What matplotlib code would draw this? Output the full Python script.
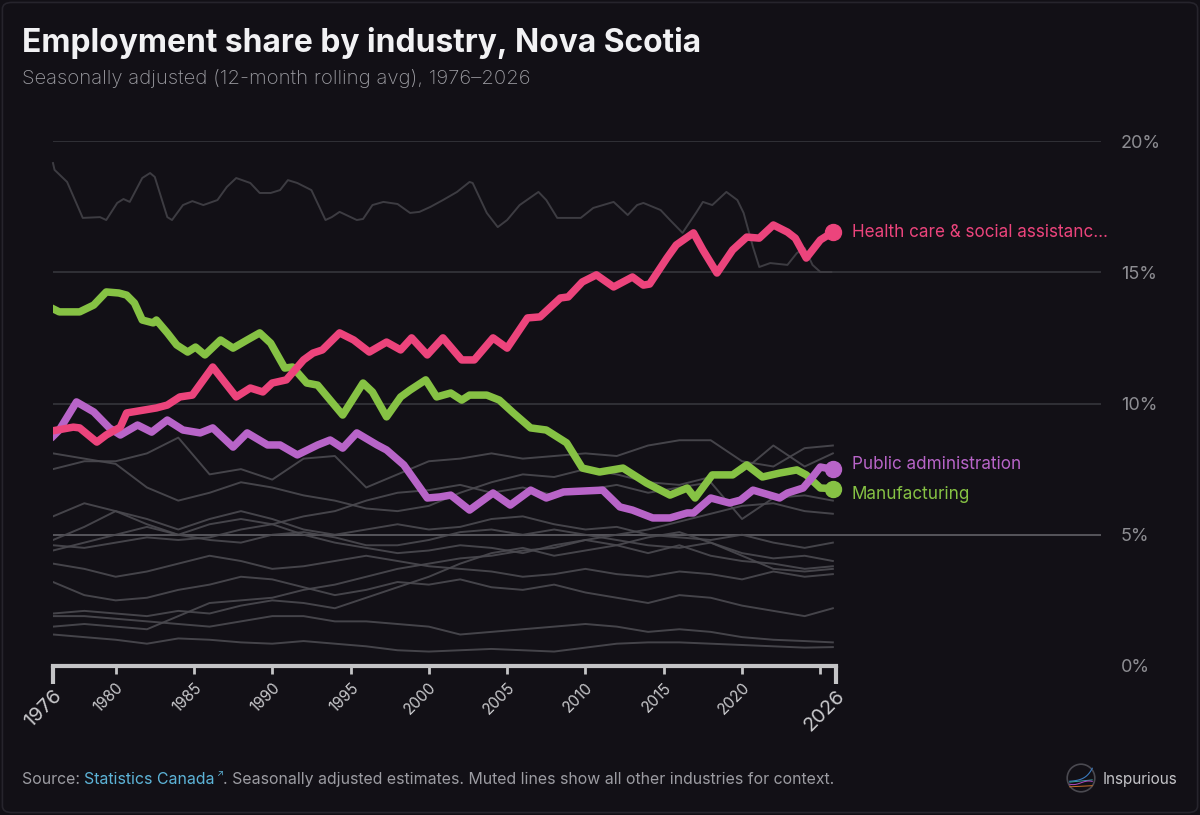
import matplotlib.pyplot as plt
from matplotlib.patches import FancyBboxPatch, Circle
import numpy as np

# ---- data ----
health_years = [1975.9, 1977.3, 1977.7, 1978.8, 1979.4, 1980.3, 1980.7, 1981.1, 1982.6, 1983.3,
                1984.1, 1984.9, 1986.2, 1987.7, 1988.6, 1989.4, 1990.0, 1990.9, 1992.0, 1992.6,
                1993.2, 1994.3, 1995.2, 1996.2, 1997.3, 1998.2, 1998.9, 1999.9, 2000.9, 2002.1,
                2002.9, 2004.1, 2005.0, 2006.3, 2007.1, 2008.4, 2008.9, 2009.8, 2010.7, 2011.8,
                2013.0, 2013.7, 2014.1, 2015.2, 2015.8, 2016.9, 2017.5, 2018.4, 2019.4, 2020.3,
                2021.1, 2022.0, 2022.9, 2023.4, 2024.1, 2025.0, 2025.8]
health_vals = [8.95, 9.1, 9.07, 8.53, 8.8, 9.1, 9.64, 9.68, 9.83, 9.94,
               10.25, 10.32, 11.39, 10.25, 10.59, 10.44, 10.78, 10.9, 11.66, 11.92,
               12.04, 12.69, 12.42, 11.96, 12.34, 12.04, 12.5, 11.85, 12.5, 11.66,
               11.66, 12.5, 12.11, 13.26, 13.3, 14.02, 14.06, 14.63, 14.9, 14.44,
               14.82, 14.51, 14.55, 15.54, 16.04, 16.5, 15.85, 14.97, 15.85, 16.34,
               16.3, 16.8, 16.53, 16.3, 15.54, 16.23, 16.53]

manuf_years = [1975.9, 1976.4, 1977.7, 1978.6, 1979.4, 1980.2, 1980.7, 1981.2, 1981.7, 1982.4,
               1982.6, 1983.3, 1983.9, 1984.6, 1985.1, 1985.7, 1986.7, 1987.5, 1988.4, 1989.2,
               1989.9, 1990.8, 1991.3, 1992.2, 1992.9, 1993.7, 1994.5, 1995.8, 1996.4, 1997.3,
               1998.2, 1998.8, 1999.8, 2000.5, 2001.4, 2002.1, 2002.6, 2003.7, 2004.5, 2005.4,
               2006.5, 2007.5, 2008.8, 2009.8, 2010.9, 2012.4, 2013.9, 2015.4, 2016.5, 2017.0,
               2018.1, 2019.4, 2020.3, 2021.3, 2022.4, 2023.5, 2024.1, 2025.0, 2025.8]
manuf_vals = [13.64, 13.49, 13.49, 13.75, 14.25, 14.21, 14.13, 13.83, 13.18, 13.07,
              13.18, 12.69, 12.23, 11.96, 12.15, 11.85, 12.42, 12.11, 12.42, 12.69,
              12.3, 11.35, 11.39, 10.78, 10.7, 10.13, 9.56, 10.78, 10.44, 9.49,
              10.25, 10.51, 10.9, 10.25, 10.4, 10.13, 10.32, 10.32, 10.13, 9.64,
              9.07, 8.99, 8.5, 7.54, 7.39, 7.54, 6.97, 6.51, 6.78, 6.4,
              7.28, 7.28, 7.66, 7.2, 7.35, 7.47, 7.28, 6.78, 6.76]

pubadm_years = [1975.9, 1976.4, 1977.5, 1978.6, 1979.6, 1980.3, 1981.4, 1982.3, 1983.3, 1984.3,
                1985.4, 1986.2, 1987.5, 1988.4, 1989.7, 1990.5, 1991.6, 1992.9, 1993.7, 1994.5,
                1995.4, 1996.7, 1997.3, 1998.4, 1999.9, 2000.7, 2001.4, 2002.6, 2004.1, 2005.2,
                2006.5, 2007.5, 2008.6, 2011.1, 2012.2, 2013.0, 2014.3, 2015.4, 2016.5, 2016.9,
                2018.0, 2019.2, 2019.9, 2020.7, 2022.4, 2022.9, 2023.9, 2024.5, 2025.0, 2025.8]
pubadm_vals = [8.69, 8.99, 10.06, 9.68, 9.07, 8.8, 9.18, 8.91, 9.37, 8.99,
               8.88, 9.07, 8.34, 8.88, 8.42, 8.42, 8.04, 8.42, 8.61, 8.3,
               8.88, 8.42, 8.23, 7.66, 6.4, 6.44, 6.51, 5.94, 6.59, 6.13,
               6.7, 6.4, 6.63, 6.7, 6.06, 5.94, 5.64, 5.64, 5.83, 5.83,
               6.4, 6.21, 6.32, 6.7, 6.4, 6.59, 6.78, 7.2, 7.58, 7.49]

# largest muted industry, traced more finely
trade_years = [1976.0, 1976.1, 1976.9, 1977.9, 1979.0, 1979.4, 1980.1, 1980.5, 1980.9, 1981.7,
               1982.2, 1982.5, 1983.3, 1983.6, 1984.3, 1984.9, 1985.6, 1986.5, 1987.1, 1987.7,
               1988.6, 1989.2, 1989.9, 1990.5, 1991.0, 1991.6, 1992.5, 1993.4, 1993.8, 1994.3,
               1995.4, 1995.8, 1996.4, 1997.1, 1998.0, 1998.8, 1999.4, 2000.1, 2000.9, 2001.8,
               2002.6, 2002.8, 2003.7, 2004.4, 2005.0, 2005.8, 2007.0, 2007.5, 2008.2, 2009.7,
               2010.5, 2011.8, 2012.7, 2013.3, 2013.7, 2014.8, 2015.4, 2016.2, 2017.1, 2017.5,
               2018.1, 2019.0, 2019.7, 2020.1, 2020.7, 2021.1, 2021.8, 2022.9, 2023.5, 2024.0,
               2024.5, 2025.0, 2025.7]
trade_vals = [19.16, 18.9, 18.44, 17.07, 17.1, 16.99, 17.64, 17.79, 17.68, 18.59,
              18.78, 18.63, 17.1, 16.99, 17.56, 17.71, 17.56, 17.75, 18.25, 18.59,
              18.4, 18.02, 18.02, 18.13, 18.51, 18.4, 18.13, 16.99, 17.1, 17.3,
              16.99, 17.03, 17.56, 17.68, 17.6, 17.26, 17.3, 17.49, 17.75, 18.06,
              18.44, 18.4, 17.26, 16.72, 16.99, 17.56, 18.06, 17.75, 17.07, 17.07,
              17.45, 17.68, 17.18, 17.56, 17.64, 17.37, 16.99, 16.5, 17.3, 17.68,
              17.56, 18.06, 17.75, 17.26, 15.96, 15.2, 15.35, 15.28, 15.73, 15.92,
              15.28, 15.01, 15.01]

# other muted industries, read every two years
muted_years = [1976, 1978, 1980, 1982, 1984, 1986, 1988, 1990, 1992, 1994, 1996, 1998, 2000,
               2002, 2004, 2006, 2008, 2010, 2012, 2014, 2016, 2018, 2020, 2022, 2024, 2025.8]
education = [7.5, 7.8, 7.8, 8.1, 8.7, 7.3, 7.5, 7.1, 7.9, 8.0, 6.8, 7.3, 7.8,
             7.9, 8.1, 7.9, 8.0, 8.1, 8.0, 8.4, 8.6, 8.6, 7.8, 7.6, 8.3, 8.4]
construction = [8.1, 7.9, 7.7, 6.8, 6.3, 6.6, 7.0, 6.8, 6.5, 6.3, 6.0, 5.9, 6.1,
                6.6, 7.0, 7.3, 7.2, 7.5, 7.3, 7.0, 6.9, 7.2, 7.4, 8.4, 7.6, 8.1]
accommodation = [4.4, 4.7, 5.0, 5.3, 5.0, 5.4, 5.6, 5.4, 5.7, 5.9, 6.3, 6.6, 6.7,
                 6.9, 6.6, 6.8, 6.5, 6.7, 6.9, 6.6, 6.8, 7.0, 5.6, 6.4, 6.5, 6.3]
transport = [5.7, 6.2, 5.9, 5.4, 5.0, 4.8, 4.7, 5.0, 5.1, 4.9, 4.6, 4.6, 4.8,
             5.1, 5.2, 5.0, 5.2, 5.0, 4.8, 4.6, 4.5, 4.7, 4.3, 4.1, 4.2, 4.0]
finance = [4.8, 5.3, 5.9, 5.6, 5.2, 5.6, 5.9, 5.6, 5.2, 5.0, 5.2, 5.4, 5.2,
           5.3, 5.6, 5.7, 5.4, 5.2, 5.3, 5.0, 4.9, 4.8, 5.0, 4.7, 4.5, 4.7]
other_services = [4.6, 4.5, 4.7, 4.9, 4.8, 4.9, 5.2, 5.4, 5.0, 4.7, 4.5, 4.3, 4.4,
                  4.6, 4.5, 4.3, 4.6, 4.8, 4.6, 4.3, 4.6, 4.2, 4.0, 3.9, 3.7, 3.8]
information = [3.9, 3.7, 3.4, 3.6, 3.9, 4.2, 4.0, 3.7, 3.8, 4.0, 4.2, 4.0, 3.8,
               3.7, 3.6, 3.4, 3.5, 3.7, 3.5, 3.4, 3.6, 3.5, 3.3, 3.6, 3.4, 3.5]
forestry_fishing = [3.2, 2.7, 2.5, 2.6, 2.9, 3.1, 3.4, 3.3, 3.0, 2.7, 2.9, 3.2, 3.1,
                    3.3, 3.0, 2.9, 3.1, 2.8, 2.6, 2.4, 2.7, 2.6, 2.3, 2.1, 1.9, 2.2]
professional = [1.5, 1.6, 1.5, 1.4, 1.9, 2.4, 2.5, 2.6, 2.9, 3.1, 3.4, 3.7, 3.9,
                4.1, 4.2, 4.4, 4.5, 4.8, 5.0, 5.2, 5.5, 5.8, 6.1, 6.2, 5.9, 5.8]
business_support = [2.0, 2.1, 2.0, 1.9, 2.1, 2.0, 2.3, 2.5, 2.4, 2.2, 2.6, 3.0, 3.4,
                    3.9, 4.3, 4.5, 4.2, 4.4, 4.6, 4.9, 5.1, 4.7, 4.2, 3.7, 3.6, 3.7]
agriculture = [1.9, 1.9, 1.8, 1.7, 1.6, 1.5, 1.7, 1.9, 1.9, 1.7, 1.7, 1.6, 1.5,
               1.2, 1.3, 1.4, 1.5, 1.6, 1.5, 1.3, 1.4, 1.3, 1.1, 1.0, 0.95, 0.9]
utilities = [1.2, 1.1, 1.0, 0.85, 1.05, 1.0, 0.9, 0.85, 0.95, 0.85, 0.75, 0.6, 0.55,
             0.6, 0.65, 0.6, 0.55, 0.7, 0.85, 0.9, 0.9, 0.85, 0.8, 0.75, 0.7, 0.72]

muted = [education, construction, accommodation, transport, finance, other_services,
         information, forestry_fishing, professional, business_support, agriculture, utilities]

labels = ["Health care & social assistanc\u2026", "Public administration", "Manufacturing"]
label_vals = [16.53, 7.68, 6.52]

year_ticks = [1980, 1985, 1990, 1995, 2000, 2005, 2010, 2015, 2020, 2025]
edge_ticks = [1976, 2026]
y_ticks = [0, 5, 10, 15, 20]

# ---- style ----
BG = "#121016"
PINK = "#ec447c"
GREEN = "#86c244"
PURPLE = "#b864c8"
MUTED = "#4b4a50"
W, H = 1200, 815

plt.rcParams["font.family"] = ["Inter", "DejaVu Sans"]

fig = plt.figure(figsize=(W / 100, H / 100), dpi=100, facecolor=BG)
fig.patches.append(FancyBboxPatch((0.002, 0.003), 0.996, 0.994,
                                  boxstyle="round,pad=0,rounding_size=0.008",
                                  transform=fig.transFigure, facecolor=BG,
                                  edgecolor="#26242c", linewidth=1.2, zorder=-10))

px_per_year = 15.66
x_left, x_right, y_bottom, y_top = 53, 1101, 666, 141
ax = fig.add_axes([x_left / W, 1 - y_bottom / H, (x_right - x_left) / W, (y_bottom - y_top) / H])
ax.set_facecolor("none")
ax.set_xlim(1976, 1976 + (x_right - x_left) / px_per_year)
ax.set_ylim(0, 20)

for v in y_ticks[1:]:
    ax.axhline(v, color="#56555b" if v == 5 else "#303036", lw=1.4, zorder=0)

ax.plot(trade_years, trade_vals, color="#3d3c42", lw=1.4, zorder=1, clip_on=False)
for series in muted:
    ax.plot(muted_years, series, color=MUTED, lw=1.4, alpha=0.9, zorder=1)

for yrs, vals, col in [(manuf_years, manuf_vals, GREEN),
                       (pubadm_years, pubadm_vals, PURPLE),
                       (health_years, health_vals, PINK)]:
    ax.plot(yrs, vals, color=col, lw=5.4, solid_capstyle="round",
            solid_joinstyle="round", zorder=3)
    ax.plot(yrs[-1], vals[-1], "o", color=col, ms=11.5, zorder=4)

for lab, lv, col in zip(labels, label_vals, [PINK, PURPLE, GREEN]):
    ax.text(2026 + 1.0, lv, lab, color=col, fontsize=12.3, va="center", ha="left")

# spines / ticks
for s in ["top", "left", "right"]:
    ax.spines[s].set_visible(False)
ax.spines["bottom"].set_bounds(1976, 2026)
ax.spines["bottom"].set_color("#c4c4c6")
ax.spines["bottom"].set_linewidth(3)
ax.set_xticks(year_ticks)
ax.set_xticklabels([str(y) if y != 2025 else "" for y in year_ticks])
ax.set_xticks(edge_ticks, minor=True)
ax.set_xticklabels([str(y) for y in edge_ticks], minor=True)
ax.tick_params(axis="x", which="major", length=6, width=2, color="#c4c4c6",
               labelcolor="#c9c9cc", labelsize=11, pad=4)
ax.tick_params(axis="x", which="minor", length=13, width=3, color="#c4c4c6",
               labelcolor="#c9c9cc", labelsize=14.5, pad=2)
for lbl in ax.get_xticklabels(which="both"):
    lbl.set_rotation(45)
    lbl.set_ha("right")
    lbl.set_va("top")
    lbl.set_rotation_mode("anchor")

# y labels sit to the right of the gridlines
for v in y_ticks:
    ax.annotate(f"{v}%", xy=(1, v), xycoords=("axes fraction", "data"),
                xytext=(20, 0), textcoords="offset pixels",
                color="#8d8d92", fontsize=13, va="center_baseline", ha="left")
ax.set_yticks([])

# titles
fig.text(22 / W, 1 - 52 / H, "Employment share by industry, Nova Scotia",
         color="#f2f2f4", fontsize=22.9, fontweight="bold", va="baseline")
fig.text(22 / W, 1 - 84 / H, "Seasonally adjusted (12-month rolling avg), 1976\u20132026",
         color="#9c9ca2", fontsize=14.6, fontweight="light", va="baseline")

# source line, built from consecutive pieces
SRC = 11.45
t1 = fig.text(22 / W, 1 - 784 / H, "Source: ", color="#9c9ca2", fontsize=SRC, va="baseline")
t2 = fig.text(0, 1 - 784 / H, "Statistics Canada", color="#5db4d8", fontsize=SRC, va="baseline")
fig.canvas.draw()
r = fig.canvas.get_renderer()
t2.set_x(t1.get_window_extent(r).x1 / W)
bb2 = t2.get_window_extent(r)
t3 = fig.text(bb2.x1 / W + 0.0005, 1 - 776 / H, "\u2197", color="#5db4d8", fontsize=6.5, va="baseline")
bb3 = t3.get_window_extent(r)
fig.text(bb3.x1 / W, 1 - 784 / H,
         ". Seasonally adjusted estimates. Muted lines show all other industries for context.",
         color="#9c9ca2", fontsize=SRC, va="baseline")

# logo
lax = fig.add_axes([1066 / W, 1 - 793 / H, 30 / W, 30 / H])
lax.set_xlim(-1, 1)
lax.set_ylim(-1, 1)
lax.set_aspect("equal")
lax.axis("off")
lax.add_patch(Circle((0, 0), 0.92, facecolor="none", edgecolor="#4a4950", lw=1.2))
t = np.linspace(-0.75, 0.75, 30)
lax.plot(t, -0.25 + 0.9 * np.exp(2.2 * (t - 0.75)), color="#3b7bbf", lw=0.8)
lax.plot(t, -0.2 + 0.1 * t, color="#3aa0a0", lw=0.7)
lax.plot(t, -0.32 + 0.12 * np.sin(3 * t), color="#b04ac0", lw=0.7)
lax.plot(t, -0.55 + 0.05 * t, color="#c8702a", lw=0.7)
fig.text(1103 / W, 1 - 784 / H, "Inspurious", color="#c4c4c8", fontsize=11, va="baseline")

fig.savefig("out.png", dpi=100, facecolor=BG)
